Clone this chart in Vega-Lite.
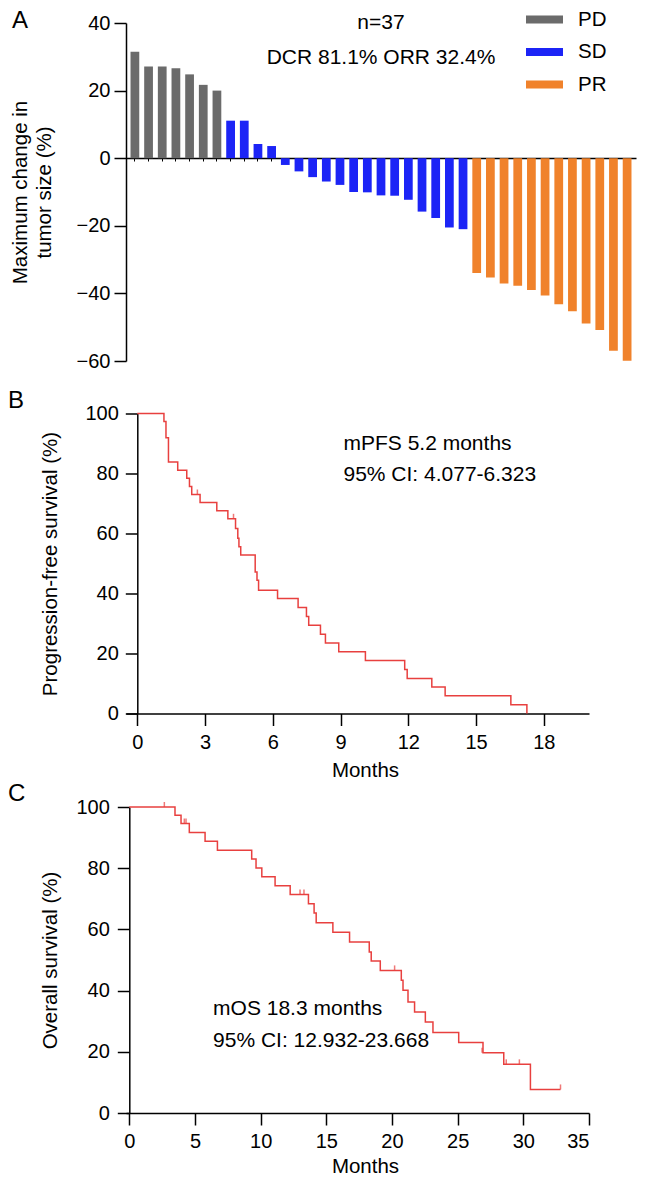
{
  "$schema": "https://vega.github.io/schema/vega-lite/v6.json",
  "background": "white",
  "padding": {"left": 8, "top": 1, "right": 5, "bottom": 2},
  "spacing": 0.5,
  "datasets": {
    "bars": [
      {"id": 1, "change": 31.5, "response": "PD"},
      {"id": 2, "change": 27.1, "response": "PD"},
      {"id": 3, "change": 27.1, "response": "PD"},
      {"id": 4, "change": 26.6, "response": "PD"},
      {"id": 5, "change": 24.8, "response": "PD"},
      {"id": 6, "change": 21.7, "response": "PD"},
      {"id": 7, "change": 20.0, "response": "PD"},
      {"id": 8, "change": 11.1, "response": "SD"},
      {"id": 9, "change": 11.1, "response": "SD"},
      {"id": 10, "change": 4.2, "response": "SD"},
      {"id": 11, "change": 3.6, "response": "SD"},
      {"id": 12, "change": -2.0, "response": "SD"},
      {"id": 13, "change": -3.9, "response": "SD"},
      {"id": 14, "change": -5.6, "response": "SD"},
      {"id": 15, "change": -6.9, "response": "SD"},
      {"id": 16, "change": -7.9, "response": "SD"},
      {"id": 17, "change": -10.0, "response": "SD"},
      {"id": 18, "change": -10.1, "response": "SD"},
      {"id": 19, "change": -11.0, "response": "SD"},
      {"id": 20, "change": -11.1, "response": "SD"},
      {"id": 21, "change": -12.3, "response": "SD"},
      {"id": 22, "change": -15.8, "response": "SD"},
      {"id": 23, "change": -17.7, "response": "SD"},
      {"id": 24, "change": -20.5, "response": "SD"},
      {"id": 25, "change": -21.0, "response": "SD"},
      {"id": 26, "change": -34.0, "response": "PR"},
      {"id": 27, "change": -35.3, "response": "PR"},
      {"id": 28, "change": -37.1, "response": "PR"},
      {"id": 29, "change": -37.7, "response": "PR"},
      {"id": 30, "change": -39.0, "response": "PR"},
      {"id": 31, "change": -40.6, "response": "PR"},
      {"id": 32, "change": -43.2, "response": "PR"},
      {"id": 33, "change": -45.3, "response": "PR"},
      {"id": 34, "change": -48.9, "response": "PR"},
      {"id": 35, "change": -50.8, "response": "PR"},
      {"id": 36, "change": -57.0, "response": "PR"},
      {"id": 37, "change": -59.9, "response": "PR"}
    ],
    "notesA": [
      {"id": 19, "change": 38.2, "label": "n=37"},
      {"id": 19, "change": 27.9, "label": "DCR 81.1% ORR 32.4%"}
    ],
    "pfs": [
      {"month": 0, "surv": 100},
      {"month": 1.18, "surv": 97.3},
      {"month": 1.27, "surv": 91.9},
      {"month": 1.38, "surv": 83.8},
      {"month": 1.79, "surv": 81.1},
      {"month": 2.19, "surv": 78.4},
      {"month": 2.31, "surv": 75.7},
      {"month": 2.41, "surv": 73.0},
      {"month": 2.78, "surv": 70.3},
      {"month": 3.52, "surv": 67.6},
      {"month": 4.01, "surv": 64.9},
      {"month": 4.35, "surv": 61.7},
      {"month": 4.45, "surv": 58.4},
      {"month": 4.5, "surv": 55.6},
      {"month": 4.58, "surv": 52.8},
      {"month": 5.22, "surv": 47.2},
      {"month": 5.3, "surv": 44.4},
      {"month": 5.37, "surv": 41.1},
      {"month": 6.21, "surv": 38.3},
      {"month": 7.12, "surv": 35.3},
      {"month": 7.49, "surv": 32.3},
      {"month": 7.59, "surv": 29.4},
      {"month": 8.11, "surv": 26.4},
      {"month": 8.33, "surv": 23.5},
      {"month": 8.92, "surv": 20.6},
      {"month": 10.1, "surv": 17.7},
      {"month": 11.84, "surv": 14.7},
      {"month": 11.95, "surv": 11.7},
      {"month": 13.04, "surv": 8.8},
      {"month": 13.63, "surv": 5.9},
      {"month": 16.54, "surv": 2.9},
      {"month": 17.25, "surv": 0}
    ],
    "pfsCensor": [
      {"month": 2.66, "surv": 73.0},
      {"month": 4.26, "surv": 64.9}
    ],
    "notesB": [
      {"month": 9.13, "surv": 87.8, "label": "mPFS 5.2 months"},
      {"month": 9.13, "surv": 77.4, "label": "95% CI: 4.077-6.323"}
    ],
    "os": [
      {"month": 0, "surv": 100},
      {"month": 3.48, "surv": 97.3},
      {"month": 3.94, "surv": 94.6},
      {"month": 4.57, "surv": 91.7},
      {"month": 5.77, "surv": 88.8},
      {"month": 6.71, "surv": 85.9},
      {"month": 9.32, "surv": 83.0},
      {"month": 9.65, "surv": 80.1},
      {"month": 10.09, "surv": 77.2},
      {"month": 11.1, "surv": 74.3},
      {"month": 12.25, "surv": 71.4},
      {"month": 13.64, "surv": 68.4},
      {"month": 14.07, "surv": 65.4},
      {"month": 14.23, "surv": 62.2},
      {"month": 15.5, "surv": 59.1},
      {"month": 16.77, "surv": 55.9},
      {"month": 18.27, "surv": 52.6},
      {"month": 18.42, "surv": 49.7},
      {"month": 19.11, "surv": 46.6},
      {"month": 20.71, "surv": 43.4},
      {"month": 20.84, "surv": 40.1},
      {"month": 21.22, "surv": 36.3},
      {"month": 21.72, "surv": 33.0},
      {"month": 22.54, "surv": 29.7},
      {"month": 23.12, "surv": 26.3},
      {"month": 25.08, "surv": 23.0},
      {"month": 26.93, "surv": 19.7},
      {"month": 28.51, "surv": 15.9},
      {"month": 30.54, "surv": 7.7},
      {"month": 32.83, "surv": 7.7}
    ],
    "osCensor": [
      {"month": 2.67, "surv": 100},
      {"month": 4.19, "surv": 94.6},
      {"month": 4.32, "surv": 94.6},
      {"month": 13.0, "surv": 71.4},
      {"month": 13.3, "surv": 71.4},
      {"month": 20.2, "surv": 46.6},
      {"month": 26.86, "surv": 19.7},
      {"month": 28.7, "surv": 15.9},
      {"month": 29.7, "surv": 15.9},
      {"month": 32.83, "surv": 7.7}
    ],
    "notesC": [
      {"month": 6.38, "surv": 31.9, "label": "mOS 18.3 months"},
      {"month": 6.38, "surv": 21.5, "label": "95% CI: 12.932-23.668"}
    ]
  },
  "vconcat": [
    {
      "width": 510,
      "height": 338,
      "title": {"text": "A", "dx": -114, "dy": 24.5},
      "layer": [
        {
          "data": {"name": "bars"},
          "mark": {"type": "bar"},
          "encoding": {
            "x": {
              "field": "id",
              "type": "ordinal",
              "scale": {"paddingInner": 0.36, "paddingOuter": 0.33},
              "axis": {
                "orient": "bottom",
                "offset": -203,
                "labels": false,
                "title": null,
                "tickSize": 3,
                "tickWidth": 1,
                "minExtent": 229.6,
                "maxExtent": 300
              }
            },
            "y": {
              "field": "change",
              "type": "quantitative",
              "scale": {"domain": [-60, 40], "nice": false},
              "axis": {
                "values": [-60, -40, -20, 0, 20, 40],
                "title": ["Maximum change in", "tumor size (%)"],
                "tickSize": 12,
                "labelPadding": 4,
                "titlePadding": 22,
                "titleLineHeight": 24
              }
            },
            "color": {
              "field": "response",
              "type": "nominal",
              "scale": {"domain": ["PD", "SD", "PR"], "range": ["#6b6b6b", "#1c24f6", "#f0822b"]},
              "legend": {
                "title": null,
                "orient": "none",
                "legendX": 400,
                "legendY": -22,
                "symbolType": "M-1,-0.22H1V0.22H-1Z",
                "symbolSize": 1369,
                "symbolStrokeWidth": 0,
                "symbolOpacity": 1,
                "labelFontSize": 20.5,
                "labelOffset": 15,
                "rowPadding": 3.5
              }
            }
          }
        },
        {
          "data": {"name": "notesA"},
          "mark": {"type": "text", "fontSize": 21, "align": "center", "baseline": "alphabetic"},
          "encoding": {
            "x": {"field": "id", "type": "ordinal"},
            "y": {"field": "change", "type": "quantitative"},
            "text": {"field": "label"}
          }
        }
      ]
    },
    {
      "width": 463,
      "height": 300,
      "title": {"text": "B", "dx": -118, "dy": 13.7},
      "layer": [
        {
          "data": {"name": "pfs"},
          "mark": {"type": "line", "interpolate": "step-after", "color": "#e8403f", "strokeWidth": 1.5},
          "encoding": {
            "x": {
              "field": "month",
              "type": "quantitative",
              "scale": {"domain": [-0.5, 20], "nice": false, "zero": false},
              "axis": {"values": [0, 3, 6, 9, 12, 15, 18], "title": "Months", "tickSize": 12, "labelPadding": 7, "titlePadding": 8, "titleX": 239}
            },
            "y": {
              "field": "surv",
              "type": "quantitative",
              "scale": {"domain": [0, 100]},
              "axis": {"values": [0, 20, 40, 60, 80, 100], "title": "Progression-free survival (%)", "offset": -11.3, "tickSize": 12, "labelPadding": 7, "titlePadding": 24}
            }
          }
        },
        {
          "data": {"name": "pfsCensor"},
          "mark": {"type": "tick", "orient": "vertical", "size": 5, "thickness": 1.5, "yOffset": -2.5, "color": "#e8403f"},
          "encoding": {
            "x": {"field": "month", "type": "quantitative"},
            "y": {"field": "surv", "type": "quantitative"}
          }
        },
        {
          "data": {"name": "notesB"},
          "mark": {"type": "text", "fontSize": 21, "align": "left", "baseline": "alphabetic"},
          "encoding": {
            "x": {"field": "month", "type": "quantitative"},
            "y": {"field": "surv", "type": "quantitative"},
            "text": {"field": "label"}
          }
        }
      ]
    },
    {
      "width": 463,
      "height": 306,
      "title": {"text": "C", "dx": -118, "dy": 13},
      "layer": [
        {
          "data": {"name": "os"},
          "mark": {"type": "line", "interpolate": "step-after", "color": "#e8403f", "strokeWidth": 1.5},
          "encoding": {
            "x": {
              "field": "month",
              "type": "quantitative",
              "scale": {"domain": [-0.25, 35], "nice": false, "zero": false},
              "axis": {"values": [0, 5, 10, 15, 20, 25, 30, 35], "title": "Months", "tickSize": 12, "labelPadding": 6, "titlePadding": 5, "titleX": 239}
            },
            "y": {
              "field": "surv",
              "type": "quantitative",
              "scale": {"domain": [0, 100]},
              "axis": {"values": [0, 20, 40, 60, 80, 100], "title": "Overall survival (%)", "offset": -3.3, "tickSize": 12, "labelPadding": 8, "titlePadding": 15}
            }
          }
        },
        {
          "data": {"name": "osCensor"},
          "mark": {"type": "tick", "orient": "vertical", "size": 5, "thickness": 1.5, "yOffset": -2.5, "color": "#e8403f"},
          "encoding": {
            "x": {"field": "month", "type": "quantitative"},
            "y": {"field": "surv", "type": "quantitative"}
          }
        },
        {
          "data": {"name": "notesC"},
          "mark": {"type": "text", "fontSize": 21, "align": "left", "baseline": "alphabetic"},
          "encoding": {
            "x": {"field": "month", "type": "quantitative"},
            "y": {"field": "surv", "type": "quantitative"},
            "text": {"field": "label"}
          }
        }
      ]
    }
  ],
  "config": {
    "font": "Liberation Sans",
    "view": {"stroke": null},
    "axis": {
      "grid": false,
      "domainColor": "#000000",
      "domainWidth": 1.5,
      "tickColor": "#000000",
      "tickWidth": 1.5,
      "labelColor": "#000000",
      "labelFontSize": 20,
      "labelFont": "Liberation Sans",
      "titleColor": "#000000",
      "titleFontSize": 20.5,
      "titleFont": "Liberation Sans",
      "titleFontWeight": "normal"
    },
    "legend": {"labelColor": "#000000", "labelFont": "Liberation Sans"},
    "text": {"color": "#000000", "font": "Liberation Sans"},
    "title": {
      "anchor": "start",
      "frame": "group",
      "fontSize": 24,
      "fontWeight": "normal",
      "font": "Liberation Sans",
      "color": "#000000",
      "offset": 0,
      "baseline": "alphabetic"
    }
  }
}
